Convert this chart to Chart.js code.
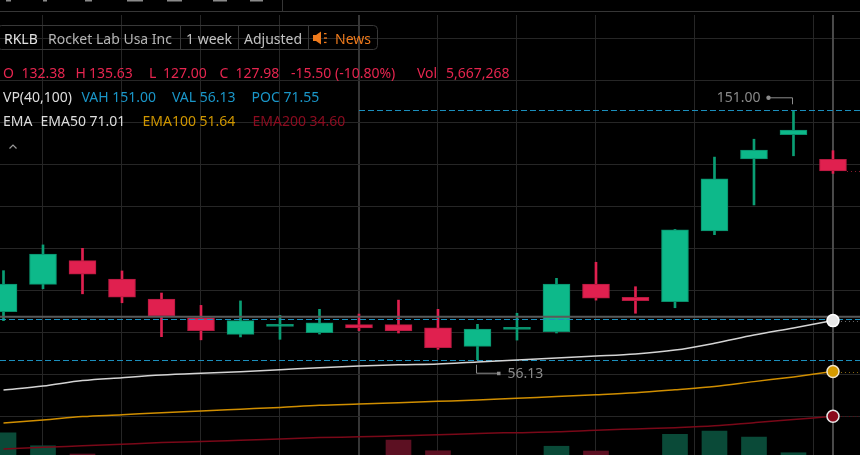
<!DOCTYPE html>
<html>
<head>
<meta charset="utf-8">
<script src="https://cdn.jsdelivr.net/npm/chart.js@4.4.0/dist/chart.umd.min.js"></script>
<style>
  html, body { margin: 0; padding: 0; background: #000; }
  canvas { display: block; }
</style>
</head>
<body>
<canvas id="chart" width="860" height="455"></canvas>
<script>
// weekly candles, oldest first (last one is the current, partial week)
const opens  = [74.4, 84.8, 93.8, 86.8, 79.2, 72.1, 65.8, 68.8, 66.4, 69.45, 69.45, 68.25, 61.2, 67.7, 66.8, 84.9, 79.9, 78.2, 105.1, 132.5, 141.7, 132.38];
const highs  = [90.0, 99.8, 98.5, 89.9, 81.5, 76.8, 78.5, 73.0, 75.3, 73.5, 78.8, 75.3, 69.6, 73.8, 87.1, 93.2, 83.9, 105.7, 133.2, 140.0, 151.00, 135.63];
const lows   = [71.0, 83.1, 81.2, 77.8, 64.9, 63.7, 64.8, 63.9, 65.9, 67.2, 66.3, 60.1, 56.13, 63.6, 66.3, 78.8, 73.8, 75.9, 103.7, 115.0, 133.7, 127.00];
const closes = [84.9, 96.3, 88.7, 79.9, 72.8, 67.2, 71.0, 69.1, 70.2, 68.2, 67.05, 60.7, 67.8, 68.1, 84.9, 79.5, 78.6, 105.5, 124.9, 135.9, 143.48, 127.98];
// volume in millions of shares
const volumes = [189, 137, 104, 92, 88, 80, 72, 66, 62, 70, 160, 117, 95, 75, 135, 116, 90, 183, 196, 172, 109, 5.667268];

const ema50  = [44.6, 46.1, 48.2, 49.3, 50.3, 51.0, 51.6, 52.3, 53.1, 53.7, 54.2, 54.5, 55.3, 56.0, 56.8, 57.5, 58.3, 59.8, 62.4, 65.5, 68.2, 71.01];
const ema100 = [32.1, 33.2, 34.5, 35.2, 36.0, 36.6, 37.3, 38.0, 38.8, 39.3, 39.8, 40.3, 40.8, 41.5, 42.1, 42.8, 43.6, 44.7, 45.9, 47.8, 49.6, 51.64];
const ema200 = [22.2, 22.8, 23.4, 24.0, 24.6, 25.0, 25.5, 26.0, 26.5, 26.8, 27.2, 27.6, 28.1, 28.4, 28.7, 29.3, 29.8, 30.3, 31.0, 32.2, 33.4, 34.60];

// volume profile
const vah = 151.00;
const val = 56.13;
const poc = 71.55;
const vpStartWeek = 9;

// grid: month boundaries (week index) and price lines
const monthWeeks = [2, 4, 6, 8, 10, 12, 14, 16, 19];
const yearWeek = 10;
const gridPrices = [34.5, 50.5, 66.5, 82.5, 98.5, 114.5, 130.5, 146.5, 162.5, 178.5];

const crossWeek = 21;
const crossPrice = 72.5;

const last = opens.length - 1;
const weeks = opens.map((_, i) => i);
const isUp = i => closes[i] >= opens[i];

const GREEN = "#0db98a", GREEN_DK = "#0a8f6b", GREEN_VOL = "#0a4a38";
const RED = "#e0204f", RED_DK = "#b3193f", RED_VOL = "#5c1022";
const RED_TXT = "#e6254f", BLUE_TXT = "#1a96c8";

function fmt(v) { return v.toFixed(2); }

function emaDataset(label, values, color, dotFill, dotBorder, order) {
  return {
    type: "line",
    label,
    data: weeks.map(i => ({ x: i, y: values[i] })),
    borderColor: color,
    borderWidth: 1.5,
    cubicInterpolationMode: "monotone",
    pointRadius: c => (c.dataIndex === last ? 6 : 0),
    pointBackgroundColor: dotFill,
    pointBorderColor: dotBorder,
    pointBorderWidth: 1.5,
    order
  };
}

const overlays = {
  id: "overlays",
  beforeDatasetsDraw(chart) {
    const { ctx, chartArea, scales } = chart;
    const x = scales.x.getPixelForValue(crossWeek);
    ctx.save();
    ctx.strokeStyle = "#4a4a4a";
    ctx.lineWidth = 2;
    ctx.beginPath();
    ctx.moveTo(x, chartArea.top);
    ctx.lineTo(x, chartArea.bottom);
    ctx.stroke();
    ctx.restore();
  },
  afterDatasetDraw(chart, args) {
    if (chart.data.datasets[args.index].label !== "Candles") return;
    const { ctx, chartArea, scales } = chart;
    const y = scales.y;
    ctx.save();
    // crosshair price line
    ctx.strokeStyle = "#5a5a5a";
    ctx.lineWidth = 2;
    ctx.beginPath();
    ctx.moveTo(chartArea.left, y.getPixelForValue(crossPrice));
    ctx.lineTo(chartArea.right, y.getPixelForValue(crossPrice));
    ctx.stroke();
    // value area lines
    ctx.strokeStyle = "#1b8fbd";
    ctx.lineWidth = 1;
    ctx.setLineDash([6, 3]);
    [[vah, scales.x.getPixelForValue(vpStartWeek)], [poc, chartArea.left], [val, chartArea.left]].forEach(([p, x0]) => {
      const py = Math.round(y.getPixelForValue(p)) + 0.5;
      ctx.beginPath();
      ctx.moveTo(x0, py);
      ctx.lineTo(chartArea.right, py);
      ctx.stroke();
    });
    // dotted last-value lines to the right edge
    ctx.setLineDash([1, 3]);
    const xl = scales.x.getPixelForValue(last);
    [[closes[last], "#8a1a30", 14], [ema50[last], "#6a6a6a", 8], [ema100[last], "#8a6a10", 8], [ema200[last], "#5a0a14", 8]].forEach(([p, c, off]) => {
      const py = Math.round(y.getPixelForValue(p)) + 0.5;
      ctx.strokeStyle = c;
      ctx.beginPath();
      ctx.moveTo(xl + off, py);
      ctx.lineTo(chartArea.right, py);
      ctx.stroke();
    });
    ctx.restore();
  },
  afterDraw(chart) {
    const { ctx, scales } = chart;
    const W = chart.width;
    ctx.save();
    // toolbar edge
    ctx.strokeStyle = "#363636";
    ctx.lineWidth = 1;
    ctx.beginPath();
    ctx.moveTo(0, 11.5); ctx.lineTo(W, 11.5);
    ctx.moveTo(282.5, 0); ctx.lineTo(282.5, 11.5);
    ctx.stroke();
    ctx.fillStyle = "#8a8a8a";
    [[6, 5], [43, 4], [85, 7], [127, 16], [167, 15], [213, 14], [250, 13]].forEach(([x0, w]) => ctx.fillRect(x0, 0, w, 1.5));

    // symbol box
    ctx.strokeStyle = "#383838";
    ctx.beginPath();
    ctx.roundRect(-2.5, 25.5, 380, 24, 4);
    ctx.moveTo(180.5, 25.5); ctx.lineTo(180.5, 49.5);
    ctx.moveTo(238.5, 25.5); ctx.lineTo(238.5, 49.5);
    ctx.moveTo(308.5, 25.5); ctx.lineTo(308.5, 49.5);
    ctx.stroke();

    ctx.font = '14px "Noto Sans"';
    ctx.textBaseline = "alphabetic";
    const row = (items, y) => items.forEach(([t, x, c]) => { ctx.fillStyle = c; ctx.fillText(t, x, y); });
    row([["RKLB", 4, "#e2e2e2"], ["Rocket Lab Usa Inc", 48, "#b5b5b5"], ["1 week", 186, "#c2c2c2"], ["Adjusted", 244, "#c2c2c2"], ["News", 335, "#ee7a1c"]], 43.5);

    // speaker icon
    ctx.fillStyle = "#ee7a1c";
    ctx.beginPath();
    ctx.moveTo(313, 35); ctx.lineTo(316, 35); ctx.lineTo(321, 31.5); ctx.lineTo(321, 44.5); ctx.lineTo(316, 41); ctx.lineTo(313, 41);
    ctx.closePath(); ctx.fill();
    ctx.fillRect(324, 33, 2.5, 1.3);
    ctx.fillRect(324, 37.4, 3, 1.3);
    ctx.fillRect(324, 41.8, 2.5, 1.3);

    const chg = closes[last] - closes[last - 1];
    const pct = chg / closes[last - 1] * 100;
    const vol = Math.round(volumes[last] * 1e6).toLocaleString("en-US");
    row([["O", 3, RED_TXT], [fmt(opens[last]), 21.5, RED_TXT], ["H", 75.5, RED_TXT], [fmt(highs[last]), 89, RED_TXT],
         ["L", 149, RED_TXT], [fmt(lows[last]), 163, RED_TXT], ["C", 219.5, RED_TXT], [fmt(closes[last]), 235.5, RED_TXT],
         [fmt(chg) + " (" + fmt(pct) + "%)", 291, RED_TXT], ["Vol", 417, RED_TXT], [vol, 446, RED_TXT]], 77.5);
    row([["VP(40,100)", 3, "#dedede"], ["VAH " + fmt(vah), 81.5, BLUE_TXT], ["VAL " + fmt(val), 172, BLUE_TXT], ["POC " + fmt(poc), 251.5, BLUE_TXT]], 101.5);
    row([["EMA", 3, "#dedede"], ["EMA50 " + fmt(ema50[last]), 40.5, "#dedede"], ["EMA100 " + fmt(ema100[last]), 142.5, "#cf9600"], ["EMA200 " + fmt(ema200[last]), 252.5, "#8c0c20"]], 125.5);

    // collapse caret
    ctx.strokeStyle = "#9a9a9a";
    ctx.lineWidth = 1.2;
    ctx.beginPath();
    ctx.moveTo(9.5, 148.5); ctx.lineTo(13, 145); ctx.lineTo(16.5, 148.5);
    ctx.stroke();

    // highest high / lowest low markers
    const hi = highs.indexOf(Math.max(...highs));
    const lo = lows.indexOf(Math.min(...lows));
    const hx = Math.round(scales.x.getPixelForValue(hi)) - 0.5;
    const hy = scales.y.getPixelForValue(highs[hi]);
    const lx = Math.round(scales.x.getPixelForValue(lo)) - 0.5;
    const ly = scales.y.getPixelForValue(lows[lo]);
    ctx.strokeStyle = "#8c8c8c";
    ctx.fillStyle = "#8c8c8c";
    ctx.lineWidth = 1;
    ctx.beginPath();
    ctx.moveTo(hx, hy - 6); ctx.lineTo(hx, hy - 12.5); ctx.lineTo(hx - 24, hy - 12.5);
    ctx.moveTo(lx, ly + 5); ctx.lineTo(lx, ly + 13.5); ctx.lineTo(lx + 22, ly + 13.5);
    ctx.stroke();
    ctx.beginPath(); ctx.arc(hx - 24, hy - 12.5, 2.2, 0, Math.PI * 2); ctx.fill();
    ctx.fillRect(lx + 20.5, ly + 12, 3.5, 3.5);
    ctx.fillStyle = "#8a8a8a";
    ctx.textAlign = "right";
    ctx.fillText(fmt(highs[hi]), hx - 32, hy - 8);
    ctx.textAlign = "left";
    ctx.fillText(fmt(lows[lo]), lx + 31, ly + 18.5);
    ctx.restore();
  }
};

new Chart(document.getElementById("chart"), {
  type: "bar",
  data: {
    datasets: [
      emaDataset("EMA50", ema50, "#d4d4d4", "#e8e8e8", "#ffffff", 0),
      emaDataset("EMA100", ema100, "#d08e00", "#d49a00", "#f0e6cc", 1),
      emaDataset("EMA200", ema200, "#7a0818", "#8b0a1c", "#e8e8e8", 2),
      {
        label: "Candles",
        data: weeks.map(i => ({ x: i, y: [opens[i], closes[i]] })),
        backgroundColor: c => (isUp(c.dataIndex) ? GREEN : RED),
        borderColor: c => (isUp(c.dataIndex) ? GREEN_DK : RED_DK),
        borderWidth: 1,
        borderSkipped: false,
        barThickness: 27,
        minBarLength: 2,
        grouped: false,
        order: 3
      },
      {
        label: "Wicks",
        data: weeks.map(i => ({ x: i, y: [lows[i], highs[i]] })),
        backgroundColor: c => (isUp(c.dataIndex) ? "#0a9e74" : RED),
        barThickness: 2,
        grouped: false,
        order: 4
      },
      {
        label: "Volume",
        yAxisID: "yVol",
        data: weeks.map(i => ({ x: i, y: volumes[i] })),
        backgroundColor: c => (isUp(c.dataIndex) ? GREEN_VOL : RED_VOL),
        barThickness: 25,
        grouped: false,
        order: 5
      }
    ]
  },
  options: {
    responsive: false,
    animation: false,
    layout: { autoPadding: false, padding: { top: 15, left: 0, right: 0, bottom: 0 } },
    plugins: { legend: { display: false }, tooltip: { enabled: false } },
    scales: {
      x: {
        type: "linear",
        min: -0.0886,
        max: 21.684,
        offset: false,
        border: { display: false },
        ticks: { display: false },
        grid: {
          drawTicks: false,
          color: c => (c.tick && c.tick.value === yearWeek ? "#363636" : "#262626"),
          lineWidth: c => (c.tick && c.tick.value === yearWeek ? 2 : 1)
        },
        afterBuildTicks: s => { s.ticks = monthWeeks.map(v => ({ value: v })); }
      },
      y: {
        min: 19.89,
        max: 187.25,
        border: { display: false },
        ticks: { display: false },
        grid: { drawTicks: false, color: "#262626" },
        afterBuildTicks: s => { s.ticks = gridPrices.map(v => ({ value: v })); }
      },
      yVol: { display: false, min: 100, max: 1860 }
    }
  },
  plugins: [overlays]
});
</script>
</body>
</html>
